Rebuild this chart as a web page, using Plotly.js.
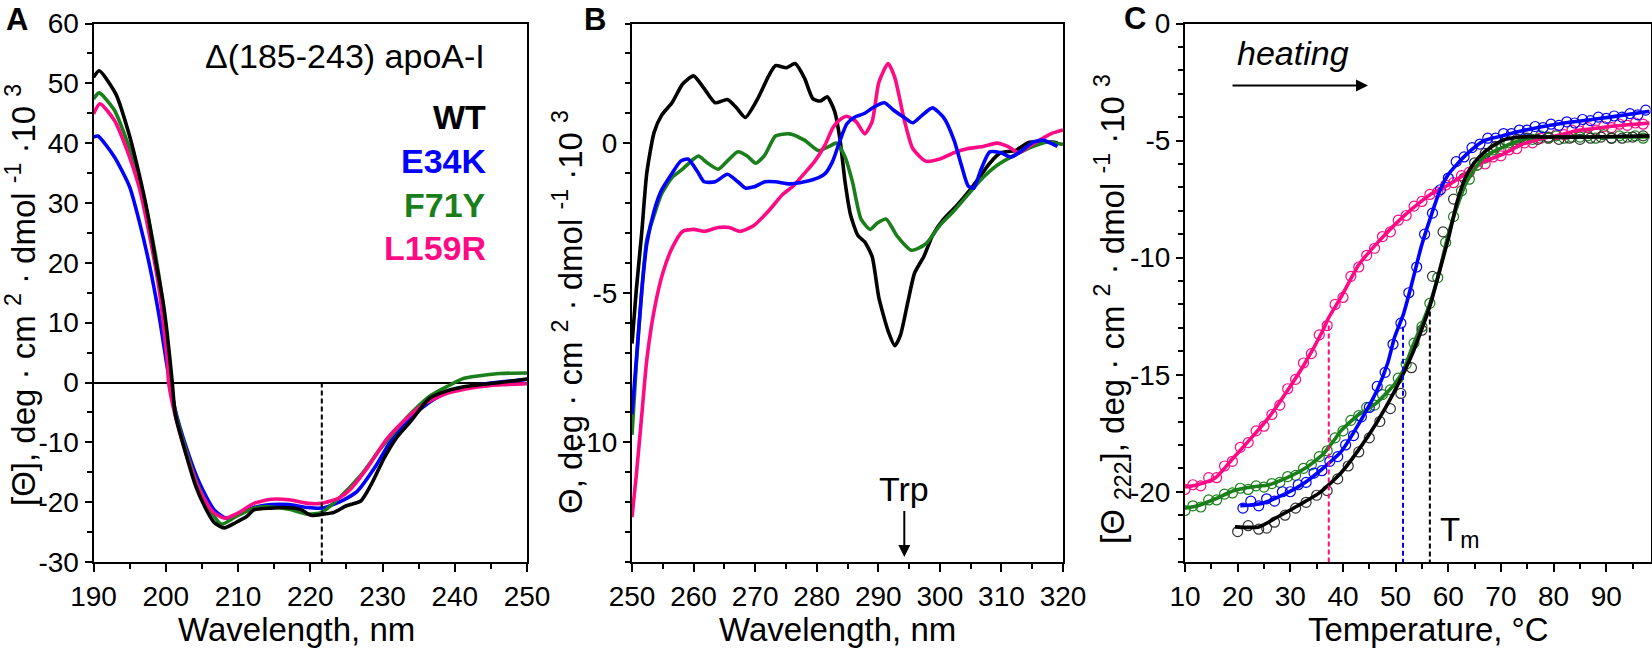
<!DOCTYPE html>
<html>
<head>
<meta charset="utf-8">
<script src="https://cdn.plot.ly/plotly-3.0.1.min.js"></script>
<style>html,body{margin:0;padding:0;background:#fff;}#chart{width:1652px;height:648px;}</style>
</head>
<body>
<div id="chart"></div>
<script>
// ---------- Panel A: far-UV CD spectra ----------
const aWtX = [190,190.8,193.1,194.9,196.3,197.5,198.6,199.6,200.2,200.9,201.3,202.8,204.2,205.5,206.7,208.1,209.7,211.2,212.2,214.6,216.1,218.6,220.1,221.8,223.3,225,227,228.5,230.2,231.9,233.9,236.4,238.9,241.3,246.3,250];
const aWtY = [51.0,52.1,48.2,41.6,34.9,28.2,20.4,13.7,8.2,0,-5.2,-12.0,-17.5,-21.0,-23.4,-24.3,-23.4,-22.4,-21.3,-21.0,-20.9,-21.2,-22.2,-22.0,-21.7,-20.6,-19.8,-16.9,-12.7,-9.3,-6.5,-2.75,-1.4,-0.7,0,0.6];
const aE34KX = [190,190.6,192.9,195,196.3,197.7,199.1,200.2,200.6,201.3,202.8,204.7,206.7,208.4,210.2,212.2,214.6,217.1,219.6,221.6,224,226.5,229,231.4,233.9,236.4,238.9,241.3,243.8,250];
const aE34KY = [41.0,41.2,37.7,32.7,27.1,19.9,11.0,2.6,0,-4.5,-10.7,-16.9,-21.3,-22.7,-22.0,-20.9,-20.4,-20.4,-20.9,-21.0,-20.0,-18.2,-14.1,-9.3,-5.9,-3.4,-1.7,-1.0,-0.3,0.5];
const aF71YX = [190,190.8,192.9,194.5,196.3,197.7,199.1,200.2,200.7,201.3,202.8,204.5,206.5,207.7,209.7,212.2,214.6,217.1,219.6,221.6,224,227,229.5,231.4,233.9,236.4,238.9,241.3,246.3,250];
const aF71YY = [47.4,48.4,45.5,40.8,34.2,26.8,17.5,6.5,0,-4.8,-11.3,-17.3,-22.0,-23.7,-22.4,-21.0,-20.8,-21.2,-22.0,-21.7,-19.3,-15.5,-11.4,-8.6,-5.2,-2.4,-0.7,0.7,1.5,1.6];
const aL159RX = [190,190.9,192.9,194.5,196.3,197.7,199.1,200.2,200.4,201.3,202.8,204.5,206.5,208.2,210.2,212.2,214.6,217.1,219.6,221.6,224,225.5,228,230.5,232.9,235.5,238.5,241.5,245,250];
const aL159RY = [44.9,46.6,43.8,39.3,32.7,24.9,15.4,3.7,0,-5.5,-11.8,-17.6,-21.6,-22.7,-21.7,-20.2,-19.5,-19.6,-20.2,-20.2,-19.3,-17.9,-14.1,-9.6,-6.5,-3.8,-2.0,-1.1,-0.5,-0.2];
const aRefWavelength = 221.6;
const aYTicks = [-30,-20,-10,0,10,20,30,40,50,60];
const aXTicks = [190,200,210,220,230,240,250];

// ---------- Panel B: near-UV CD spectra ----------
const bWtX = [250,250.7,251.6,252.4,253.6,254.8,256.5,258.2,260,261.7,263.5,265.5,266.9,268.4,270.4,272.2,273.3,275.1,276.5,278,279.4,280.6,281.7,282.9,283.8,284.6,285.5,286.7,287.8,289,290.1,291.6,292.7,293.6,294.8,295.9,297.4,298.8,300.6,302.9,304.6,306.4,308.1,309.9,312.2,314.5,316.2,318.6,319.1];
const bWtY = [-6.7,-4.9,-2.95,-1.0,0.37,0.93,1.35,1.97,2.25,1.83,1.35,1.46,1.2,0.86,1.48,2.25,2.59,2.52,2.66,2.18,1.48,1.41,1.55,1.07,0.1,-1.29,-2.4,-3.09,-3.3,-3.79,-5.17,-6.28,-6.77,-6.42,-5.31,-4.34,-3.79,-3.09,-2.54,-2.05,-1.64,-1.15,-0.67,-0.32,-0.25,0.03,0.03,0.03,0];
const bE34KX = [250,250.7,251.6,252.4,253.6,254.8,256.5,257.9,259.1,260.6,261.7,263.5,265.5,267.2,268.4,269.8,271.6,273.3,275.6,278,280.3,281.4,282.6,283.8,284.9,286.1,287.8,289.3,291,292.5,294.2,295.6,297.1,298.8,300.6,302.3,303.5,304.6,305.5,306.7,308.1,309.9,311.6,313.3,315.1,316.8,319.1];
const bE34KY = [-9.06,-7.25,-4.9,-3.37,-2.26,-1.57,-1.01,-0.6,-0.53,-0.94,-1.29,-1.29,-1.04,-1.29,-1.5,-1.46,-1.29,-1.29,-1.36,-1.29,-1.15,-1.01,-0.6,0.1,0.65,0.86,1.0,1.21,1.35,1.1,0.86,0.68,0.93,1.18,0.86,0.1,-0.74,-1.43,-1.5,-0.87,-0.29,-0.32,-0.46,-0.25,0.03,0.1,-0.11];
const bF71YX = [250,250.7,251.6,252.4,253.6,254.8,256.5,258.2,260,260.8,262.3,264,265.8,267.2,268.7,270.1,271.6,273.3,275.6,278,280.3,282,283.2,284.6,285.8,287.2,288.7,289.8,291.3,293,295.4,297.7,300,302.3,304.6,307,309.3,312.2,315.1,317.4,320];
const bF71YY = [-9.75,-7.4,-4.9,-3.23,-2.4,-1.7,-1.15,-0.87,-0.53,-0.43,-0.67,-0.87,-0.53,-0.29,-0.43,-0.67,-0.39,0.24,0.31,0.1,-0.25,-0.11,0,-0.46,-1.29,-2.54,-2.88,-2.68,-2.54,-3.09,-3.58,-3.37,-2.75,-2.26,-1.71,-1.15,-0.74,-0.39,-0.11,0.03,-0.04];
const bL159RX = [250,250.7,251.6,252.4,253.6,255,256.5,258.2,260,261.7,264,265.8,267.5,269.8,272.2,274.5,276.2,278,279.7,281.4,282.6,283.8,284.9,286.4,287.8,289,290.1,291.6,292.7,294.2,295.6,297.7,300,302.3,304.6,307,309.3,311,312.8,314.5,316.2,318,320];
const bL159RY = [-12.5,-11.1,-9.06,-7.25,-5.59,-4.34,-3.51,-2.95,-2.88,-2.95,-2.82,-2.82,-2.95,-2.75,-2.26,-1.71,-1.43,-1.01,-0.6,-0.04,0.51,0.79,0.9,0.72,0.31,0.72,2.04,2.66,2.18,0.79,-0.18,-0.6,-0.53,-0.32,-0.18,-0.11,0,-0.11,-0.32,-0.11,0.1,0.31,0.44];
const bYTicks = [-10,-5,0];
const bXTicks = [250,260,270,280,290,300,310,320];

// ---------- Panel C: thermal unfolding at 222 nm ----------
const cL159RFitT = [10,12.4,15.8,19.2,22.6,26,29.4,32.8,36.2,37.2,39.6,43,46.4,49.8,53.2,56.6,60,63.4,66.8,70.2,73.6,77,80.5,83.9,87.3,90.7,98.2];
const cL159RFitV = [-19.8,-19.7,-19.4,-18.55,-17.7,-16.8,-15.7,-14.5,-13.1,-12.6,-11.7,-10.3,-9.4,-8.6,-7.9,-7.3,-6.9,-6.4,-5.9,-5.6,-5.2,-4.95,-4.8,-4.6,-4.5,-4.4,-4.25];
const cE34KFitT = [20.5,24.6,29.4,32.8,36.2,39.6,43,46.4,48.5,49.8,51.5,53.2,54.9,56.6,58.3,60,63.4,66.8,70.2,73.6,80.5,87.3,90.7,98.2];
const cE34KFitV = [-20.6,-20.5,-20.05,-19.6,-19.0,-18.3,-17.1,-15.7,-14.5,-13.4,-12.4,-11.0,-9.5,-8.3,-7.2,-6.45,-5.6,-5.0,-4.8,-4.6,-4.3,-4.1,-4.0,-3.75];
const cWtFitT = [19.5,24,27.4,31.4,35.5,39.6,43,46.4,49.8,53.2,54.9,56.6,58.3,60,61.7,63.4,65.1,66.8,70.2,73.6,80.5,87.3,98.2];
const cWtFitV = [-21.5,-21.5,-21.1,-20.6,-20.05,-19.2,-18.2,-17.05,-15.7,-14.1,-13.1,-12.0,-10.6,-9.2,-7.6,-6.5,-5.9,-5.5,-5.0,-4.85,-4.85,-4.85,-4.8];
const cF71YFitT = [10,12.4,15.8,19.2,22.6,26,29.4,32.8,36.2,38.3,39.6,43,46.4,49.8,51.5,53.2,54.9,56.6,58.3,60,61.7,63.4,65.1,66.8,70.2,73.6,77,80.5,87.3,98.2];
const cF71YFitV = [-20.7,-20.6,-20.3,-19.96,-19.8,-19.7,-19.4,-19.0,-18.4,-17.8,-17.4,-16.7,-16.2,-15.4,-14.8,-13.8,-12.9,-11.9,-10.6,-9.0,-7.8,-6.8,-6.2,-5.7,-5.3,-5.0,-4.85,-4.85,-4.85,-4.85];

const cL159RObsT = [10,11.5,13,14.5,16,17.5,19,20.5,22,23.5,25,26.5,28,29.5,31,32.5,34,35.5,37,38.5,40,41.5,43,44.5,46,47.5,49,50.5,52,53.5,55,56.5,58,59.5,61,62.5,64,65.5,67,68.5,70,71.5,73,74.5,76,77.5,79,80.5,82,83.5,85,86.5,88,89.5,91,92.5,94,95.5,97];
const cL159RObsV = [-19.9,-19.7,-19.75,-19.4,-19.4,-18.9,-18.7,-18.1,-17.9,-17.4,-17.2,-16.7,-16.3,-15.6,-15.2,-14.5,-14.1,-13.3,-12.9,-12.0,-11.7,-10.8,-10.4,-9.9,-9.6,-9.1,-8.9,-8.4,-8.2,-7.8,-7.6,-7.3,-7.2,-6.9,-6.8,-6.5,-6.35,-6.05,-6.0,-5.7,-5.65,-5.4,-5.35,-5.1,-5.1,-4.9,-4.9,-4.75,-4.75,-4.55,-4.6,-4.45,-4.55,-4.4,-4.45,-4.3,-4.35,-4.25,-4.3];
const cE34KObsT = [21,22.5,24,25.5,27,28.5,30,31.5,33,34.5,36,37.5,39,40.5,42,43.5,45,46.5,48,49.5,51,52.5,54,55.5,57,58.5,60,61.5,63,64.5,66,67.5,69,70.5,72,73.5,75,76.5,78,79.5,81,82.5,84,85.5,87,88.5,90,91.5,93,94.5,96,97.5];
const cE34KObsV = [-20.7,-20.4,-20.6,-20.3,-20.4,-20.0,-20.0,-19.7,-19.6,-19.2,-19.1,-18.7,-18.5,-18.0,-17.6,-16.8,-16.4,-15.5,-14.9,-13.7,-12.8,-11.5,-10.4,-9.0,-8.1,-7.1,-6.6,-5.9,-5.7,-5.3,-5.15,-4.9,-4.9,-4.7,-4.7,-4.55,-4.55,-4.4,-4.45,-4.3,-4.35,-4.2,-4.25,-4.1,-4.15,-4.0,-4.05,-3.95,-4.0,-3.85,-3.9,-3.7];
const cWtObsT = [20,22,24,25.5,27,29,31,33,35,37,39,41,43,45,47,49,51,53,55,57,59,61,63,65,67,69,71,73,75,77,79,81,83,85,87,89,91,93,95,97];
const cWtObsV = [-21.7,-21.45,-21.6,-21.55,-21.3,-21.0,-20.7,-20.45,-20.15,-19.95,-19.45,-18.9,-18.3,-17.7,-17.0,-16.45,-15.8,-14.7,-13.1,-10.8,-8.9,-7.5,-6.6,-5.95,-5.55,-5.25,-5.0,-4.95,-4.9,-4.95,-4.85,-4.95,-4.9,-4.95,-4.9,-4.85,-4.9,-4.9,-4.85,-4.8];
const cF71YObsT = [10,11.5,13,14.5,16,17.5,19,20.5,22,23.5,25,26.5,28,29.5,31,32.5,34,35.5,37,38.5,40,41.5,43,44.5,46,47.5,49,50.5,52,53.5,55,56.5,58,59.5,61,62.5,64,65.5,67,68.5,70,71.5,73,74.5,76,77.5,79,80.5,82,83.5,85,86.5,88,89.5,91,92.5,94,95.5,97];
const cF71YObsV = [-20.8,-20.6,-20.65,-20.35,-20.35,-20.1,-20.05,-19.85,-19.9,-19.75,-19.8,-19.65,-19.6,-19.35,-19.3,-19.0,-18.85,-18.5,-18.25,-17.7,-17.4,-16.95,-16.75,-16.4,-16.3,-15.85,-15.65,-15.15,-14.55,-13.65,-12.95,-11.95,-10.85,-9.35,-8.25,-7.15,-6.65,-6.05,-5.75,-5.4,-5.35,-5.1,-5.1,-4.9,-4.95,-4.8,-4.9,-4.8,-4.9,-4.85,-4.85,-4.8,-4.9,-4.75,-4.9,-4.8,-4.85,-4.8,-4.9];
const cTm = [37.3, 51.4, 56.5];          // L159R, E34K, WT
const cTmTop = [-12.9, -12.95, -12.3];
const cYBottom = -23;
const cYTicks = [-20,-15,-10,-5,0];
const cXTicks = [10,20,30,40,50,60,70,80,90];

// ---------- Styling ----------
const COL = {wt:'#000000', e34k:'#0000ff', f71y:'#1a7f1a', l159r:'#ff0a85'};
const FONT = 'Liberation Sans, Arial, sans-serif';
const W = 1652, H = 648;
const px = x => x / W, py = y => 1 - y / H;
const yDom = [py(562), py(23.5)];

function line(x, y, color, xa, ya, extra) {
  return Object.assign({x: x, y: y, mode: 'lines', type: 'scatter', xaxis: xa, yaxis: ya,
    line: {color: color, width: 3.6, shape: 'spline', smoothing: 0.6}, hoverinfo: 'skip', showlegend: false}, extra || {});
}
function obs(x, y, color) {
  return {x: x, y: y, mode: 'markers', type: 'scatter', xaxis: 'x3', yaxis: 'y3',
    marker: {symbol: 'circle-open', size: 10, color: color, line: {width: 1.2, color: color}}, hoverinfo: 'skip', showlegend: false};
}
function dashV(xv, y0, y1, color, xa, ya) {
  return {x: [xv, xv], y: [y0, y1], mode: 'lines', type: 'scatter', xaxis: xa, yaxis: ya,
    line: {color: color, width: 2, dash: '5px,3px'}, hoverinfo: 'skip', showlegend: false};
}

const traces = [
  line(aE34KX, aE34KY, COL.e34k, 'x', 'y'),
  line(aF71YX, aF71YY, COL.f71y, 'x', 'y'),
  line(aL159RX, aL159RY, COL.l159r, 'x', 'y'),
  line(aWtX, aWtY, COL.wt, 'x', 'y'),
  dashV(aRefWavelength, 0, -30, '#000', 'x', 'y'),
  line(bWtX, bWtY, COL.wt, 'x2', 'y2'),
  line(bF71YX, bF71YY, COL.f71y, 'x2', 'y2'),
  line(bL159RX, bL159RY, COL.l159r, 'x2', 'y2'),
  line(bE34KX, bE34KY, COL.e34k, 'x2', 'y2'),
  obs(cL159RObsT, cL159RObsV, COL.l159r),
  obs(cF71YObsT, cF71YObsV, COL.f71y),
  obs(cE34KObsT, cE34KObsV, COL.e34k),
  obs(cWtObsT, cWtObsV, '#333333'),
  line(cL159RFitT, cL159RFitV, COL.l159r, 'x3', 'y3'),
  line(cF71YFitT, cF71YFitV, COL.f71y, 'x3', 'y3'),
  line(cE34KFitT, cE34KFitV, COL.e34k, 'x3', 'y3'),
  line(cWtFitT, cWtFitV, COL.wt, 'x3', 'y3'),
  dashV(cTm[0], cTmTop[0], cYBottom, COL.l159r, 'x3', 'y3'),
  dashV(cTm[1], cTmTop[1], cYBottom, COL.e34k, 'x3', 'y3'),
  dashV(cTm[2], cTmTop[2], cYBottom, COL.wt, 'x3', 'y3')
];

const tickFont = {family: FONT, size: 28, color: '#000'};
function axis(domain, range, tickvals, minorDtick, anchor, extra) {
  return Object.assign({
    domain: domain, range: range, anchor: anchor, showgrid: false, zeroline: false,
    showline: true, linecolor: '#000', linewidth: 2, mirror: true,
    ticks: 'outside', ticklen: 8, tickwidth: 2, tickcolor: '#000',
    tickmode: 'array', tickvals: tickvals, ticktext: tickvals.map(v => String(v)),
    tickfont: tickFont, fixedrange: true,
    minor: {dtick: minorDtick, ticks: 'outside', ticklen: 5, tickwidth: 2, tickcolor: '#000', showgrid: false}
  }, extra || {});
}

const titleFont = {family: FONT, size: 33, color: '#000'};
const ann = (x, y, text, opts) => Object.assign({xref: 'paper', yref: 'paper', x: px(x), y: py(y), text: text,
  showarrow: false, font: titleFont, xanchor: 'center', yanchor: 'middle'}, opts || {});
const yTitle = '· cm <sup>2</sup> · dmol <sup>-1</sup> ·10 <sup>3</sup>';
const letterFont = {family: FONT, size: 31, color: '#000'};
const yTitleFont = {family: FONT, size: 33, color: '#000'};

const annotations = [
  ann(17, 19, '<b>A</b>', {font: letterFont}),
  ann(595, 19, '<b>B</b>', {font: letterFont}),
  ann(1135, 18, '<b>C</b>', {font: letterFont}),
  ann(296, 629, 'Wavelength, nm'),
  ann(838, 629, 'Wavelength, nm'),
  ann(1428, 629, 'Temperature, °C'),
  ann(21, 295, '[Θ], deg ' + yTitle, {textangle: -90, font: yTitleFont}),
  ann(568, 312, 'Θ, deg ' + yTitle, {textangle: -90, font: yTitleFont}),
  ann(1112, 309, '[Θ <sub>222</sub>], deg ' + yTitle, {textangle: -90, font: yTitleFont}),
  ann(487, 56, 'Δ(185-243) apoA-I', {xanchor: 'right', font: {family: FONT, size: 34, color: '#000'}}),
  ann(488, 117, '<b>WT</b>', {xanchor: 'right', font: {family: FONT, size: 34, color: COL.wt}}),
  ann(488, 161, '<b>E34K</b>', {xanchor: 'right', font: {family: FONT, size: 34, color: COL.e34k}}),
  ann(488, 205, '<b>F71Y</b>', {xanchor: 'right', font: {family: FONT, size: 34, color: COL.f71y}}),
  ann(488, 248, '<b>L159R</b>', {xanchor: 'right', font: {family: FONT, size: 34, color: COL.l159r}}),
  ann(904, 489, 'Trp', {font: {family: FONT, size: 34, color: '#000'}}),
  {xref: 'paper', yref: 'paper', x: px(904.3), y: py(557), ax: 0, ay: -48, axref: 'pixel', ayref: 'pixel',
   showarrow: true, arrowhead: 2, arrowsize: 1.2, arrowwidth: 2, arrowcolor: '#000', text: ' ', font: {size: 1}},
  ann(1293, 53, '<i>heating</i>', {font: {family: FONT, size: 34, color: '#000'}}),
  {xref: 'paper', yref: 'paper', x: px(1368), y: py(85.5), ax: -137, ay: 0, axref: 'pixel', ayref: 'pixel',
   showarrow: true, arrowhead: 2, arrowsize: 1.2, arrowwidth: 2, arrowcolor: '#000', text: ' ', font: {size: 1}},
  ann(1438, 532, 'T<sub>m</sub>', {xanchor: 'left', font: {family: FONT, size: 33, color: '#000'}})
];

const layout = {
  width: W, height: H, margin: {l: 0, r: 0, t: 0, b: 0},
  paper_bgcolor: '#fff', plot_bgcolor: '#fff', showlegend: false,
  font: {family: FONT, color: '#000'},
  xaxis: axis([px(93.5), px(527)], [190, 250], aXTicks, 5, 'y'),
  yaxis: axis(yDom, [-30, 60], aYTicks, 5, 'x', {zeroline: true, zerolinecolor: '#000', zerolinewidth: 2, ticklen: 7}),
  xaxis2: axis([px(632), px(1063)], [250, 320], bXTicks, 5, 'y2'),
  yaxis2: axis(yDom, [-14, 4], bYTicks, 1, 'x2', {ticklen: 7}),
  xaxis3: axis([px(1185), px(1650.5)], [10, 98.4], cXTicks, 5, 'y3'),
  yaxis3: axis(yDom, [-23, 0], cYTicks, 1, 'x3', {ticklen: 7}),
  annotations: annotations
};

Plotly.newPlot('chart', traces, layout, {staticPlot: true, displayModeBar: false});
</script>
</body>
</html>
